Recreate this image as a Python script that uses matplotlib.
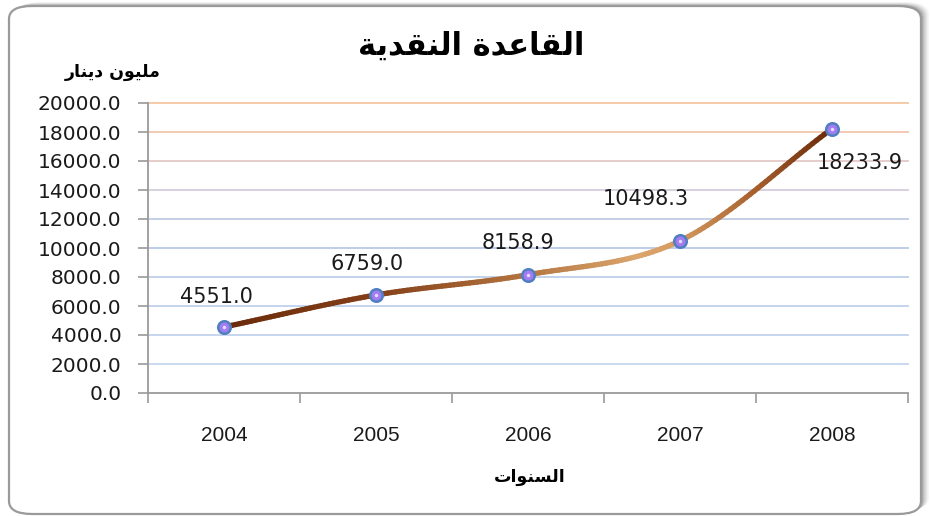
import numpy as np
import matplotlib
matplotlib.use("Agg")
import matplotlib.pyplot as plt
from matplotlib.collections import LineCollection
from matplotlib.colors import LinearSegmentedColormap
from matplotlib.patches import FancyBboxPatch

# ---- data ----
years = ['2004', '2005', '2006', '2007', '2008']
values = [4551.0, 6759.0, 8158.9, 10498.3, 18233.9]
value_labels = ['4551.0', '6759.0', '8158.9', '10498.3', '18233.9']
yticks = [0, 2000, 4000, 6000, 8000, 10000, 12000, 14000, 16000, 18000, 20000]
title_text = 'القاعدة النقدية'
ylabel_text = 'مليون دينار'
xlabel_text = 'السنوات'

# ---- minimal Arabic shaping (presentation forms, visual order) ----
FORMS = {
    'ا': ('\ufe8d', '\ufe8e', None, None),
    'د': ('\ufea9', '\ufeaa', None, None),
    'ة': ('\ufe93', '\ufe94', None, None),
    'و': ('\ufeed', '\ufeee', None, None),
    'ر': ('\ufead', '\ufeae', None, None),
    'ل': ('\ufedd', '\ufede', '\ufedf', '\ufee0'),
    'ق': ('\ufed5', '\ufed6', '\ufed7', '\ufed8'),
    'ع': ('\ufec9', '\ufeca', '\ufecb', '\ufecc'),
    'ن': ('\ufee5', '\ufee6', '\ufee7', '\ufee8'),
    'ي': ('\ufef1', '\ufef2', '\ufef3', '\ufef4'),
    'م': ('\ufee1', '\ufee2', '\ufee3', '\ufee4'),
    'س': ('\ufeb1', '\ufeb2', '\ufeb3', '\ufeb4'),
    'ت': ('\ufe95', '\ufe96', '\ufe97', '\ufe98'),
}


def shape(s):
    out = []
    for i, c in enumerate(s):
        if c not in FORMS:
            out.append(c)
            continue
        f = FORMS[c]
        prev = s[i - 1] if i > 0 else None
        nxt = s[i + 1] if i + 1 < len(s) else None
        jp = prev in FORMS and FORMS[prev][2] is not None
        jn = f[2] is not None and nxt in FORMS
        if jp and jn:
            out.append(f[3])
        elif jp:
            out.append(f[1])
        elif jn:
            out.append(f[2])
        else:
            out.append(f[0])
    return ''.join(reversed(out))


W, H = 931, 516
fig = plt.figure(figsize=(W / 100, H / 100), dpi=100)
fig.patch.set_facecolor('white')

# frame with soft shadow towards the upper right
fx0, fy0, fw, fh = 9, 2, 912, 508  # pixels, bottom-left origin
for k, a in enumerate([0.04, 0.06, 0.08, 0.10, 0.13]):
    off = 8 - k * 1.6
    sh = FancyBboxPatch(((fx0 + off) / W, (fy0 + off * 0.5) / H), fw / W, fh / H,
                        boxstyle="round,pad=0,rounding_size=0.025",
                        transform=fig.transFigure, facecolor='black',
                        edgecolor='none', alpha=a, zorder=0)
    fig.patches.append(sh)
frame = FancyBboxPatch((fx0 / W, fy0 / H), fw / W, fh / H,
                       boxstyle="round,pad=0,rounding_size=0.025",
                       transform=fig.transFigure, facecolor='white',
                       edgecolor='#9a9a9a', linewidth=1.6, zorder=1)
fig.patches.append(frame)

ax = fig.add_axes([148 / W, 1 - 393 / H, (908 - 148) / W, (393 - 103) / H])
ax.set_facecolor('none')
ax.set_zorder(2)

x = np.arange(len(years))
ax.set_xlim(-0.5, len(years) - 0.5)
ax.set_ylim(0, 20000)

# gridlines with gradient colors
grid_colors = {2000: '#c8d8ee', 4000: '#c6d6ee', 6000: '#c4d4ed', 8000: '#c2d2ec',
               10000: '#bdcdea', 12000: '#c4cfe6', 14000: '#d6d0e0', 16000: '#e6cdcc',
               18000: '#f3c9b2', 20000: '#f6cba8'}
for yv in yticks[1:]:
    ax.axhline(yv, color=grid_colors[yv], lw=1.4, zorder=1, clip_on=False)

# smooth curve (Bezier through the data points) with gradient colour
xs = x.astype(float)
ys = np.array(values)
px = np.concatenate([[2 * xs[0] - xs[1]], xs, [2 * xs[-1] - xs[-2]]])
py = np.concatenate([[2 * ys[0] - ys[1]], ys, [2 * ys[-1] - ys[-2]]])
cx, cy = [], []
t = np.linspace(0, 1, 40)[:, None]
for i in range(1, len(px) - 2):
    p0, p1, p2, p3 = [np.array([px[j], py[j]]) for j in (i - 1, i, i + 1, i + 2)]
    c1 = p1 + (p2 - p0) / 6
    c2 = p2 - (p3 - p1) / 6
    b = (1 - t) ** 3 * p1 + 3 * (1 - t) ** 2 * t * c1 + 3 * (1 - t) * t ** 2 * c2 + t ** 3 * p2
    cx.extend(b[:, 0])
    cy.extend(b[:, 1])
cx = np.array(cx)
cy = np.array(cy)
pts = np.column_stack([cx, cy]).reshape(-1, 1, 2)
segs = np.concatenate([pts[:-1], pts[1:]], axis=1)
cmap = LinearSegmentedColormap.from_list('brown', [
    (0.0, '#6a2a0a'), (0.25, '#843f18'), (0.5, '#b47540'),
    (0.68, '#dba56c'), (0.75, '#d69c62'), (0.88, '#a65f2c'), (1.0, '#6a2a0a')])
lc = LineCollection(segs, cmap=cmap, norm=plt.Normalize(0, len(years) - 1),
                    linewidths=3.8, capstyle='round', joinstyle='round', zorder=3)
lc.set_array((cx[:-1] + cx[1:]) / 2)
ax.add_collection(lc)

ax.plot(x, values, linestyle='none', marker='o', markersize=9,
        markerfacecolor='#a47cf2', markeredgecolor='#4f7fc0', markeredgewidth=1.8,
        zorder=4)
ax.plot(x, values, linestyle='none', marker='o', markersize=2.5,
        markerfacecolor='#e6dcff', markeredgecolor='none', zorder=5)

# data labels
offsets = [(-8, 30), (-9, 31), (-10, 32), (-34, 42), (28, -34)]
for xi, yv, lab, (dx, dy) in zip(x, values, value_labels, offsets):
    ax.annotate(lab, (xi, yv), xytext=(dx, dy), textcoords='offset pixels',
                ha='center', va='center', fontsize=15, color='#1a1a1a',
                family='DejaVu Sans', zorder=6)

# axes styling
for s in ['top', 'right']:
    ax.spines[s].set_visible(False)
ax.spines['left'].set_color('#9a9a9a')
ax.spines['bottom'].set_color('#9a9a9a')
ax.spines['left'].set_linewidth(1.3)
ax.spines['bottom'].set_linewidth(1.3)

ax.set_yticks(yticks)
ax.set_yticklabels([f'{v:.1f}' for v in yticks], family='DejaVu Sans',
                   fontsize=14.5, color='#1a1a1a')
ax.tick_params(axis='y', length=7, color='#9a9a9a', width=1.2, pad=12)

ax.set_xticks(np.arange(-0.5, len(years), 1.0))
ax.set_xticklabels([])
ax.tick_params(axis='x', length=7, color='#9a9a9a', width=1.2)
for xi, yr in zip(x, years):
    ax.text(xi, -0.145, yr, transform=ax.get_xaxis_transform(), ha='center',
            va='center', fontsize=15, family='Liberation Sans', color='#1a1a1a')

# texts
fig.text(471 / W, 1 - 46 / H, shape(title_text), ha='center', va='center',
         fontsize=22, fontweight='bold', family='DejaVu Sans', color='black')
fig.text(113 / W, 1 - 72 / H, shape(ylabel_text), ha='center', va='center',
         fontsize=12.5, fontweight='bold', family='DejaVu Sans', color='black')
fig.text(530 / W, 1 - 477 / H, shape(xlabel_text), ha='center', va='center',
         fontsize=12.5, fontweight='bold', family='DejaVu Sans', color='black')

fig.savefig('out.png', dpi=100)
